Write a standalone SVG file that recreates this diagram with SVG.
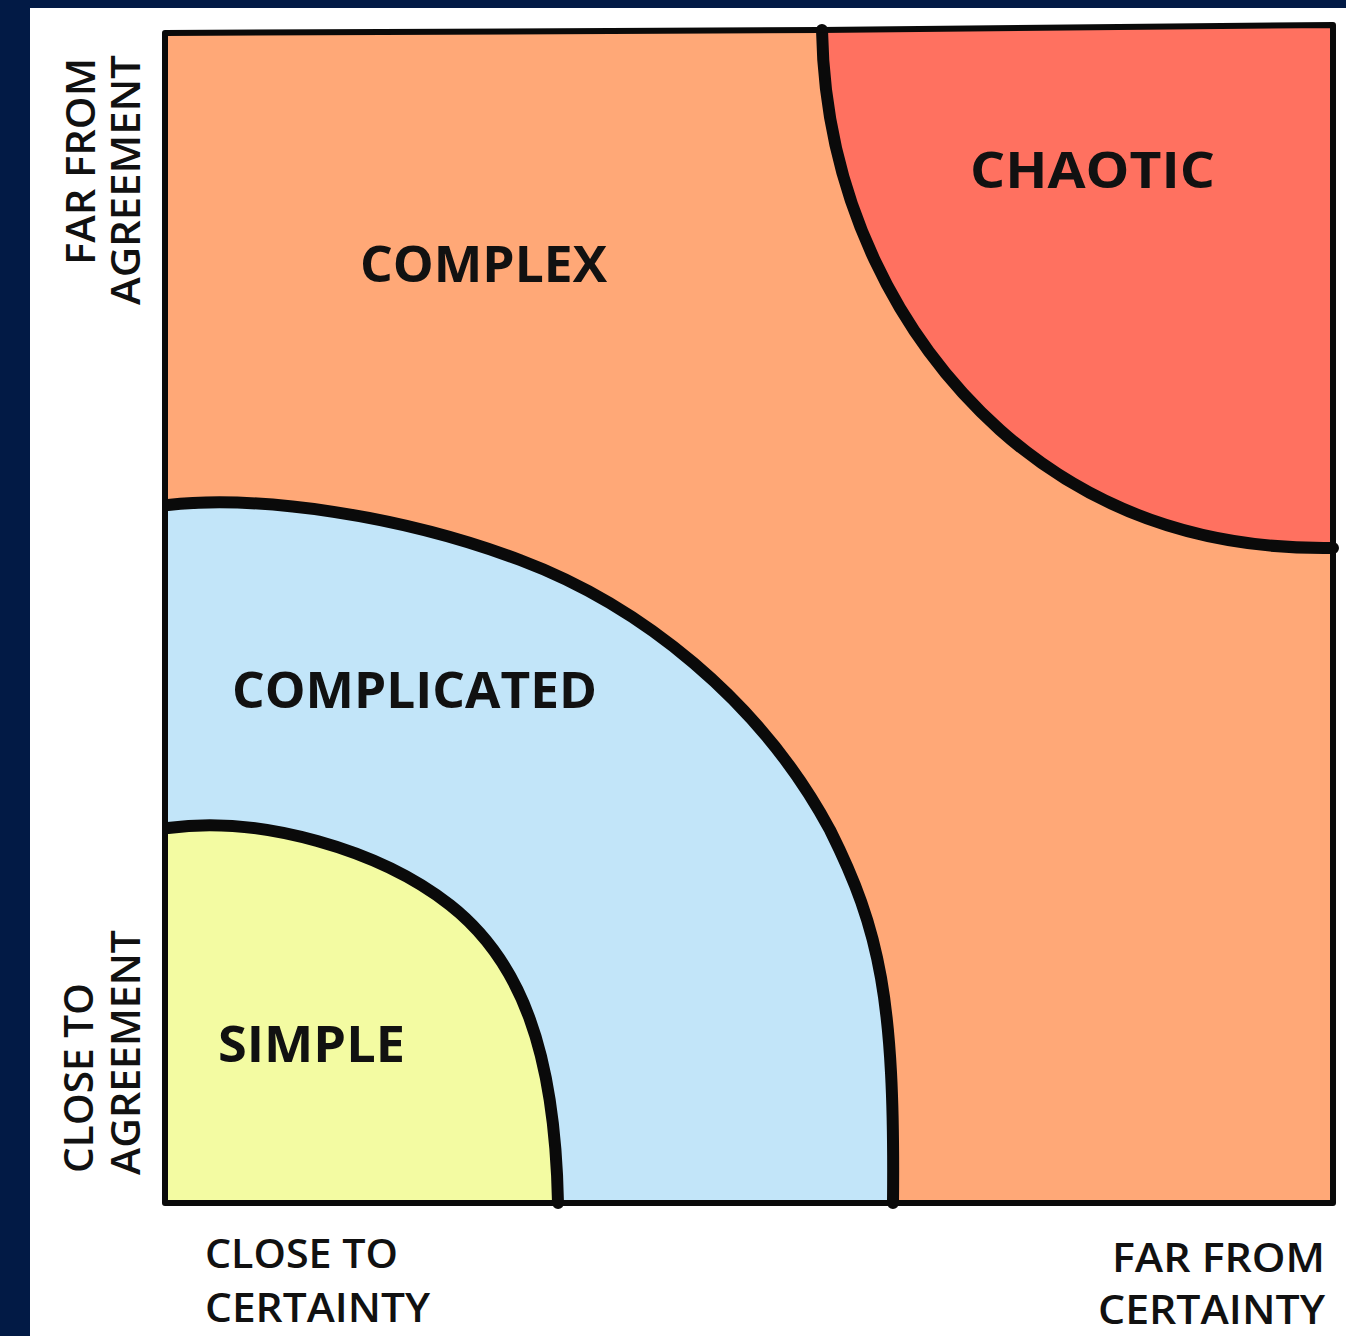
<svg xmlns="http://www.w3.org/2000/svg" width="1346" height="1336" viewBox="0 0 1346 1336">
<style>
.lbl{font-family:"Open Sans","Liberation Sans",sans-serif;font-weight:700;fill:#111;}
.big{font-size:50px;}
.ax{font-size:40px;font-weight:600;}
.edge{fill:none;stroke:#0a0a0a;stroke-width:12;stroke-linecap:round;stroke-linejoin:round;}
</style>
<rect x="0" y="0" width="1346" height="1336" fill="#021a45"/>
<rect x="30" y="8" width="1316" height="1328" fill="#ffffff"/>
<g id="complex">
<path d="M165,33 L820,30 L1333,25 L1333,1203 L165,1203 Z" fill="#ffa877"/>
</g>
<g id="chaotic">
<path d="M822,30 C825,200 900,340 1000,430 C1090,510 1200,550 1333,548 L1333,25 Z" fill="#ff7160"/>
</g>
<g id="complicated">
<path d="M168,505 C260,495 400,515 520,560 C640,605 760,700 830,830 C880,930 895,1000 893,1203 L168,1203 Z" fill="#c2e5f9"/>
</g>
<g id="simple">
<path d="M168,828 C260,815 380,850 450,905 C520,960 555,1050 558,1203 L168,1203 Z" fill="#f3fba2"/>
</g>
<g id="connectors">
<path class="edge" d="M822,30 C825,200 900,340 1000,430 C1090,510 1200,550 1333,548"/>
<path class="edge" d="M168,505 C260,495 400,515 520,560 C640,605 760,700 830,830 C880,930 895,1000 893,1203"/>
<path class="edge" d="M168,828 C260,815 380,850 450,905 C520,960 555,1050 558,1203"/>
<path d="M165,33 L820,30 L1333,25 L1333,1203 L165,1203 Z" fill="none" stroke="#0a0a0a" stroke-width="6" stroke-linejoin="round"/>
</g>
<g id="labels">
<text class="lbl big" x="360" y="282" textLength="247" lengthAdjust="spacingAndGlyphs">COMPLEX</text>
<text class="lbl big" x="970" y="188" textLength="245" lengthAdjust="spacingAndGlyphs">CHAOTIC</text>
<text class="lbl big" x="232" y="708" textLength="365" lengthAdjust="spacingAndGlyphs">COMPLICATED</text>
<text class="lbl big" x="218" y="1062" textLength="187" lengthAdjust="spacingAndGlyphs">SIMPLE</text>
<text class="lbl ax" transform="translate(95,265) rotate(-90)" textLength="207" lengthAdjust="spacingAndGlyphs">FAR FROM</text>
<text class="lbl ax" transform="translate(140,305) rotate(-90)" textLength="250" lengthAdjust="spacingAndGlyphs">AGREEMENT</text>
<text class="lbl ax" transform="translate(93,1173) rotate(-90)" textLength="190" lengthAdjust="spacingAndGlyphs">CLOSE TO</text>
<text class="lbl ax" transform="translate(140,1175) rotate(-90)" textLength="245" lengthAdjust="spacingAndGlyphs">AGREEMENT</text>
<text class="lbl ax" x="205" y="1268" textLength="193" lengthAdjust="spacingAndGlyphs">CLOSE TO</text>
<text class="lbl ax" x="205" y="1322" textLength="225" lengthAdjust="spacingAndGlyphs">CERTAINTY</text>
<text class="lbl ax" x="1112" y="1272" textLength="213" lengthAdjust="spacingAndGlyphs">FAR FROM</text>
<text class="lbl ax" x="1098" y="1324" textLength="227" lengthAdjust="spacingAndGlyphs">CERTAINTY</text>
</g>
</svg>
